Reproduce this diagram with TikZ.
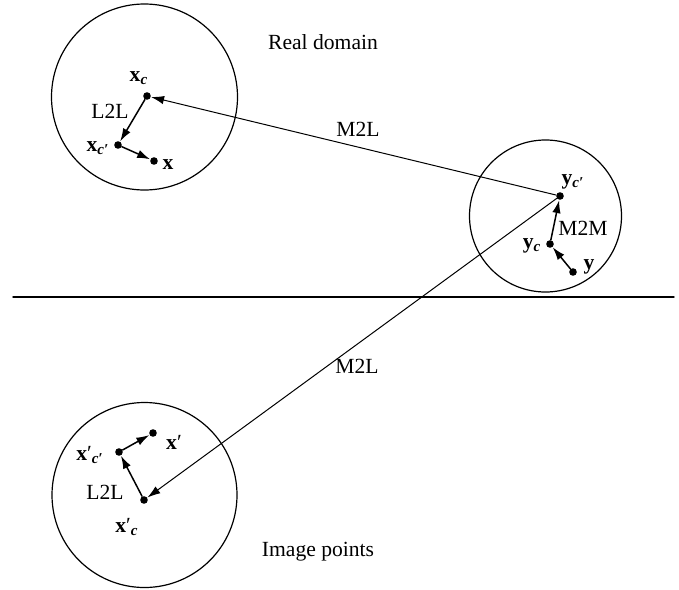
\documentclass[tikz,border=0pt]{standalone}
\usepackage{fontspec}
\setmainfont{Liberation Serif}
\usepackage{tikz}
\usetikzlibrary{arrows.meta}

\tikzset{
  dot/.style={circle,fill=black,inner sep=0pt,minimum size=3.8pt},
  lbl/.style={inner sep=0pt,font=\fontsize{10.8}{13}\selectfont},
  vec/.style={line width=0.75pt,-{Latex[length=6.5pt,width=4.2pt]}},
  far/.style={line width=0.5pt,-{Latex[length=6.5pt,width=4.2pt]}},
}
\newcommand{\bx}{\textbf{x}}
\newcommand{\by}{\textbf{y}}
\newcommand{\sub}[1]{\textsubscript{\textbf{\textit{#1}}}}

\begin{document}
\begin{tikzpicture}[line cap=round,line join=round,x=0.5pt,y=-0.5pt]
\useasboundingbox (0,0) rectangle (679,589);
% domains
\draw [line width=0.6pt] (144.5,97) circle [radius=93];
\draw [line width=0.6pt] (545.5,216) circle [radius=76];
\draw [line width=0.6pt] (144.5,495) circle [radius=92.5];
\draw [line width=0.7pt] (13,297) -- (674,297);
% real domain
\node[dot] (xc) at (147,96) {};
\node[dot] (xcp) at (118,145) {};
\node[dot] (x) at (154,161) {};
\node[lbl] (lxc) at (139,78) {\bx\sub{c}};
\node[lbl] (ll2l) at (110,111) {L2L};
\node[lbl] (lxcp) at (98,148) {\bx\sub{c′}};
\node[lbl] (lx) at (168,165) {\bx};
% source cluster
\node[dot] (ycp) at (560,196) {};
\node[dot] (yc) at (550,244) {};
\node[dot] (y) at (573,272) {};
\node[lbl] (lycp) at (573,182) {\by\sub{c′}};
\node[lbl] (lm2m) at (583,228) {M2M};
\node[lbl] (lyc) at (532,246) {\by\sub{c}};
\node[lbl] (ly) at (589,267) {\by};
% image points
\node[dot] (ixc) at (144,500) {};
\node[dot] (ixcp) at (119,452) {};
\node[dot] (ix) at (153,433) {};
\node[lbl] (lixcp) at (90,455) {\bx′\sub{c′}};
\node[lbl] (lix) at (174,442) {\bx′};
\node[lbl] (ll2l2) at (105,492) {L2L};
\node[lbl] (lixc) at (127,527) {\bx′\sub{c}};
% texts
\node[lbl] (real) at (323,42) {Real domain};
\node[lbl] (image) at (318,552) {Image points};
\node[lbl] (m2la) at (358,129) {M2L};
\node[lbl] (m2lb) at (357,366) {M2L};
% translations
\draw [vec] (xc) -- (xcp);
\draw [vec] (xcp) -- (x);
\draw [vec] (y) -- (yc);
\draw [vec] (yc) -- (ycp);
\draw [vec] (ixc) -- (ixcp);
\draw [vec] (ixcp) -- (ix);
\draw [far] (ycp) -- (xc);
\draw [far] (ycp) -- (ixc);
\end{tikzpicture}
\end{document}
